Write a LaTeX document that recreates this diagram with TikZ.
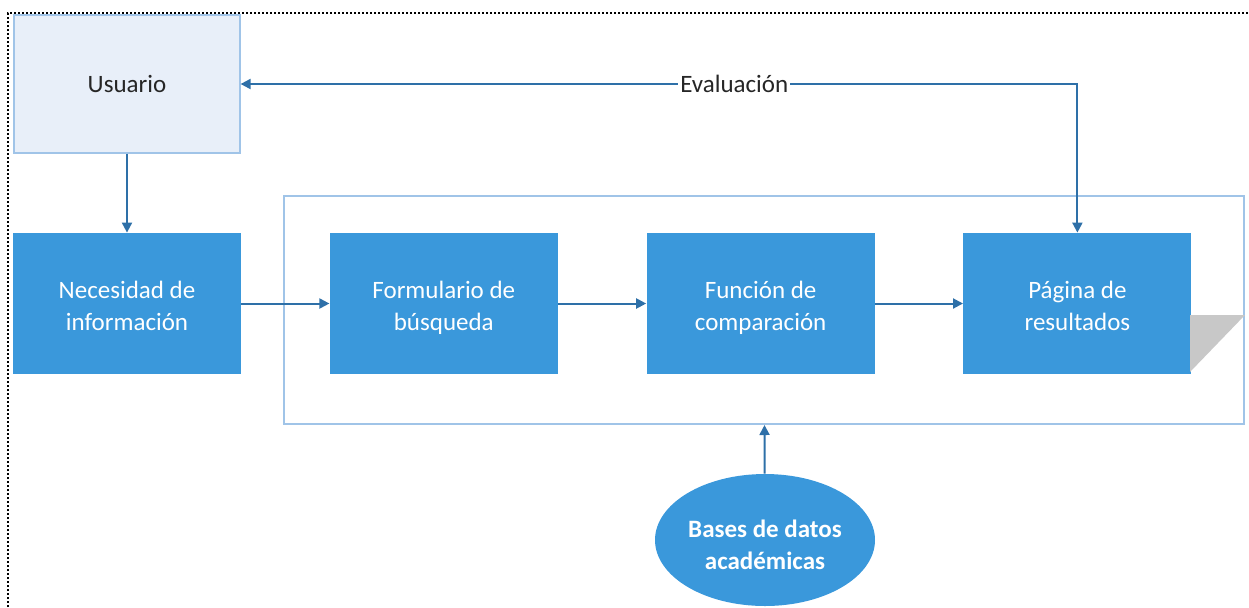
\documentclass[tikz,border=0pt]{standalone}
\usepackage{fontspec}
\setmainfont{Carlito}
\usetikzlibrary{positioning,shapes.geometric,arrows.meta}
\definecolor{cajaazul}{RGB}{58,152,219}
\definecolor{flechaazul}{RGB}{46,112,168}
\definecolor{bordeclaro}{RGB}{160,196,232}
\definecolor{fondoclaro}{RGB}{232,239,249}
\definecolor{textogris}{RGB}{38,38,38}
\definecolor{sombra}{RGB}{200,200,200}
\begin{document}
\begin{tikzpicture}[x=0.5pt, y=-0.5pt, font=\fontsize{12.5}{16}\selectfont]
        \tikzstyle{paso} = [align=center, fill=cajaazul, text=white, minimum width=114pt, minimum height=70.5pt, inner sep=0pt, text height=27.3pt, text depth=0.5pt]
        \tikzstyle{flecha} = [draw=flechaazul, line width=1pt, -{Triangle[length=5pt, width=5pt]}]
        \useasboundingbox (0,0) rectangle (1249,607);
        \draw[line width=1pt, dash pattern=on 1pt off 1pt] (8,607) -- (8,13) -- (1249,13);

        % marco del sistema
        \node[draw=bordeclaro, line width=1pt, minimum width=480pt, minimum height=114pt, inner sep=0pt](marco) at (764,310){};
        \node[paso](necesidad) at (127,303.5){Necesidad de\\información};
        \node[paso, right=44pt of necesidad](formulario){Formulario de\\búsqueda};
        \node[paso, right=44pt of formulario](funcion){Función de\\comparación};
        \node[paso, right=44pt of funcion](pagina){Página de\\resultados};
        \fill[sombra] (1190,315) -- (1245,315) -- (1190,372) -- cycle;

        \node[draw=bordeclaro, fill=fondoclaro, text=textogris, line width=0.6pt, minimum width=113pt, minimum height=69pt](usuario) at (127,84){Usuario};
        \node[ellipse, fill=cajaazul, text=white, font=\fontsize{12.5}{16}\selectfont\bfseries, align=center, minimum width=110pt, minimum height=66pt, inner sep=0pt, text height=30pt, text depth=0.2pt](bases) at (765,540){Bases de datos\\académicas};

        \path[flecha] (usuario) -- (necesidad);
        \path[flecha] (necesidad) -- (formulario);
        \path[flecha] (formulario) -- (funcion);
        \path[flecha] (funcion) -- (pagina);
        \path[flecha] (bases) -- (marco);
        \path[flecha, {Triangle[length=5pt, width=5pt]}-{Triangle[length=5pt, width=5pt]}] (usuario.east) -| node[pos=0.295, fill=white, text=textogris, inner sep=1pt](){Evaluación} (pagina.north);
    \end{tikzpicture}
\end{document}
